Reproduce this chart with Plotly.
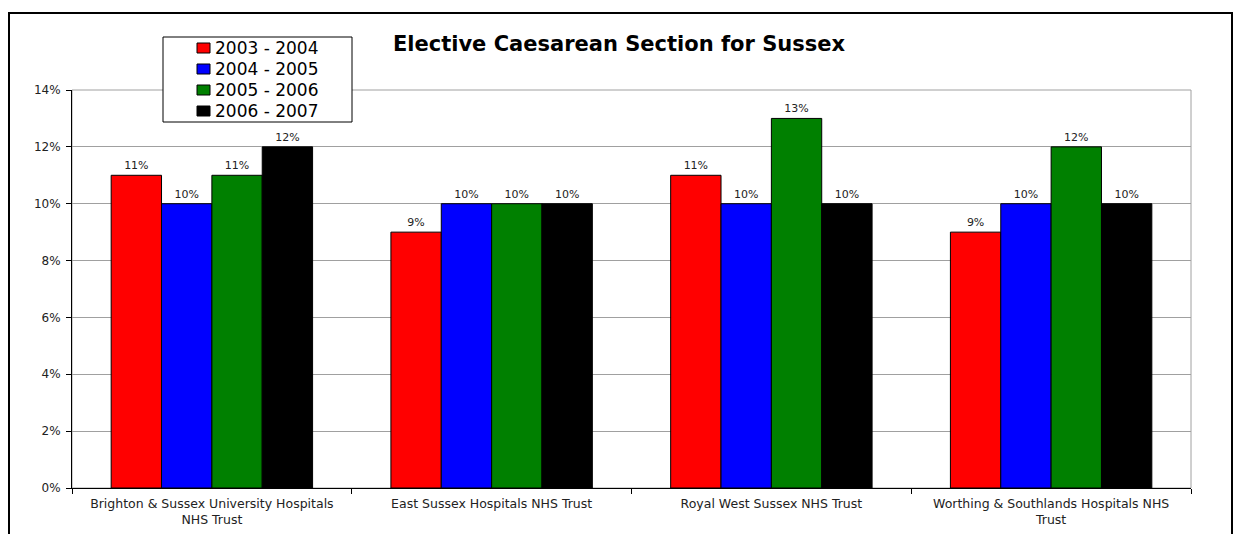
import plotly.graph_objects as go

# Trusts and yearly elective caesarean rates
trusts = [
    "Brighton & Sussex University Hospitals<br>NHS Trust",
    "East Sussex Hospitals NHS Trust",
    "Royal West Sussex NHS Trust",
    "Worthing & Southlands Hospitals NHS<br>Trust",
]
years = ["2003 - 2004", "2004 - 2005", "2005 - 2006", "2006 - 2007"]
rate_2003_04 = [0.11, 0.09, 0.11, 0.09]
rate_2004_05 = [0.10, 0.10, 0.10, 0.10]
rate_2005_06 = [0.11, 0.10, 0.13, 0.12]
rate_2006_07 = [0.12, 0.10, 0.10, 0.10]
series = [rate_2003_04, rate_2004_05, rate_2005_06, rate_2006_07]
colors = ["#FF0000", "#0000FF", "#008000", "#000000"]

y_ticks = [0, 0.02, 0.04, 0.06, 0.08, 0.10, 0.12, 0.14]

FONT = "DejaVu Sans, Arial, sans-serif"

fig = go.Figure()
for name, vals, col in zip(years, series, colors):
    fig.add_trace(go.Bar(
        x=trusts, y=vals, name=name, showlegend=False,
        marker=dict(color=col, line=dict(color="#000000", width=1)),
        texttemplate="%{y:.0%}", textposition="outside",
        textfont=dict(size=11, color="#222222", family=FONT),
        cliponaxis=False,
    ))

W, H = 1237, 534
L, R, T, B = 72, 46, 90, 46
pw, ph = W - L - R, H - T - B


def px_x(x):
    return (x - L) / pw


def px_y(y):
    return (H - B - y) / ph


shapes = [
    # plot area frame (top and right edges)
    dict(type="rect", xref="paper", yref="paper", x0=0, x1=1, y0=0, y1=1,
         line=dict(color="#A0A0A0", width=1), layer="below"),
    # outer chart border
    dict(type="rect", xref="paper", yref="paper",
         x0=px_x(9), x1=px_x(1232), y0=px_y(540), y1=px_y(13),
         line=dict(color="#000000", width=2)),
    # legend box
    dict(type="rect", xref="paper", yref="paper",
         x0=px_x(163), x1=px_x(352), y0=px_y(122), y1=px_y(37),
         line=dict(color="#000000", width=1), fillcolor="white", layer="above"),
]
annotations = []
row_h = 21
for i, (name, col) in enumerate(zip(years, colors)):
    cy = 48 + i * row_h
    shapes.append(dict(
        type="rect", xref="paper", yref="paper",
        x0=px_x(197), x1=px_x(210), y0=px_y(cy + 5), y1=px_y(cy - 5),
        line=dict(color="#000000", width=1), fillcolor=col, layer="above"))
    annotations.append(dict(
        xref="paper", yref="paper", x=px_x(213), y=px_y(cy),
        xanchor="left", yanchor="middle", showarrow=False, text=name,
        font=dict(size=17, color="#000000", family=FONT)))

fig.update_layout(
    width=W, height=H,
    margin=dict(l=L, r=R, t=T, b=B, autoexpand=False),
    paper_bgcolor="white", plot_bgcolor="white",
    barmode="group", bargap=0.28, bargroupgap=0,
    font=dict(family=FONT, color="#222222"),
    showlegend=False,
    title=dict(
        text="<b>Elective Caesarean Section for Sussex</b>",
        x=619 / W, xanchor="center", y=1 - 44 / H, yanchor="middle",
        font=dict(size=21, color="#000000", family=FONT),
    ),
    xaxis=dict(
        type="category", showline=True, linecolor="#000000", linewidth=1,
        ticks="outside", tickson="boundaries", ticklen=5, tickcolor="#000000",
        tickfont=dict(size=12.5, color="#222222"), showgrid=False,
        ticklabelstandoff=4, automargin=False,
    ),
    yaxis=dict(
        range=[0, 0.14], tickvals=y_ticks, tickformat=".0%",
        showline=True, linecolor="#000000", linewidth=1,
        ticks="outside", ticklen=5, tickcolor="#000000",
        tickfont=dict(size=12, color="#222222"), ticklabelstandoff=3,
        showgrid=True, gridcolor="#A0A0A0", gridwidth=1, zeroline=False,
        automargin=False,
    ),
    shapes=shapes,
    annotations=annotations,
)

fig.write_html("out.html")
